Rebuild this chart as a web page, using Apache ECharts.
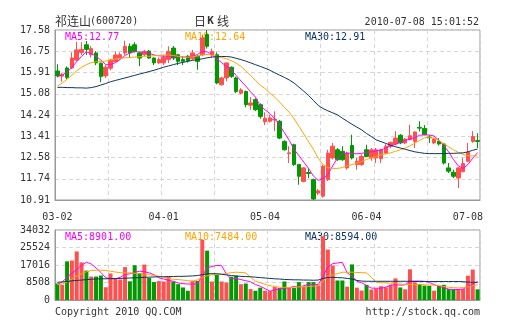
<!DOCTYPE html>
<html><head><meta charset="utf-8">
<script src="https://cdn.jsdelivr.net/npm/echarts@6/dist/echarts.min.js"></script>
<style>html,body{margin:0;padding:0;background:#fff}#c{width:505px;height:330px}</style>
</head><body><div id="c"></div>
<script>
const dates = ['03-02','03-03','03-04','03-05','03-08','03-09','03-10','03-11','03-12','03-15','03-16','03-17','03-18','03-19','03-22','03-23','03-24','03-25','03-26','03-29','03-30','03-31',
'04-01','04-02','04-06','04-07','04-08','04-09','04-12','04-13','04-14','04-15','04-16','04-19','04-20','04-21','04-22','04-23','04-26','04-27','04-28','04-29','04-30',
'05-04','05-05','05-06','05-07','05-10','05-11','05-12','05-13','05-14','05-17','05-18','05-19','05-20','05-21','05-24','05-25','05-26','05-27','05-28','05-31',
'06-01','06-02','06-03','06-04','06-07','06-08','06-09','06-10','06-11','06-17','06-18','06-21','06-22','06-23','06-24','06-25','06-28','06-29','06-30',
'07-01','07-02','07-05','07-06','07-07','07-08'];
const open  = [15.97,15.77,16.09,16.09,16.40,16.70,17.00,16.61,16.68,16.28,15.78,16.08,16.34,16.48,16.68,16.94,17.00,16.68,16.61,16.75,16.48,16.29,
16.29,16.42,16.87,16.61,16.42,16.55,16.45,16.55,16.61,17.40,16.61,16.61,15.43,15.70,16.12,15.70,15.10,15.17,14.63,14.85,14.65,
13.98,14.00,14.05,14.00,13.21,12.73,13.08,12.30,11.64,11.99,11.71,11.18,11.06,11.71,12.56,12.88,12.82,12.17,13.05,12.30,12.30,
12.88,12.56,12.56,12.53,12.75,13.02,13.11,13.45,13.15,13.28,13.21,13.76,13.72,13.38,13.15,13.21,13.11,12.17,12.00,11.77,12.02,12.43,13.21,13.24];
const close = [15.78,15.83,15.72,16.48,16.80,16.82,16.82,16.85,16.29,15.76,16.12,16.40,16.60,16.61,16.94,16.68,16.74,16.48,16.74,16.48,16.29,16.42,
16.51,16.74,16.48,16.35,16.35,16.38,16.68,16.35,17.27,16.94,16.74,15.50,15.70,16.29,15.76,15.17,15.23,14.65,14.72,14.45,14.19,
14.12,14.13,14.08,13.34,12.88,12.76,12.30,11.84,12.17,11.95,10.95,11.27,12.23,12.75,13.02,12.49,12.49,12.75,12.56,12.43,12.62,
12.62,12.88,12.88,12.88,13.02,13.17,13.34,13.15,13.30,13.43,13.58,13.73,13.47,13.35,13.30,13.11,12.36,12.04,11.84,12.17,12.34,12.78,13.40,13.21];
const low   = [15.72,15.55,15.65,16.05,16.35,16.60,16.60,16.50,16.20,15.53,15.70,16.00,16.30,16.40,16.60,16.50,16.70,16.16,16.55,16.45,16.20,16.25,
16.20,16.28,16.40,16.20,16.20,16.30,16.40,16.02,16.55,16.85,16.50,15.45,15.40,15.57,15.70,15.10,15.05,14.55,14.45,14.40,14.10,
13.85,13.95,13.61,13.30,12.85,12.36,12.25,11.51,11.60,11.77,10.91,11.10,11.00,11.65,12.50,12.45,12.45,12.10,12.50,12.10,12.25,
12.60,12.45,12.36,12.36,12.70,12.95,13.05,13.10,13.10,13.25,12.95,13.60,13.45,13.15,13.10,13.05,12.30,11.97,11.77,11.38,12.00,12.40,13.15,12.95];
const high  = [16.24,15.90,16.15,16.70,17.12,17.10,17.15,16.95,16.75,16.30,16.20,16.45,16.74,16.70,17.16,17.05,17.10,16.72,16.80,16.80,16.50,16.50,
16.60,16.94,16.95,16.65,16.55,16.60,16.80,16.60,17.40,17.58,16.85,16.70,15.75,16.30,16.15,15.75,15.30,15.20,14.95,14.90,14.70,
14.35,14.25,14.39,14.05,13.25,13.02,13.12,12.33,12.20,12.17,11.75,11.35,12.30,12.88,13.15,12.95,13.02,12.80,13.47,12.56,12.70,
13.08,12.95,12.95,12.92,13.10,13.20,13.61,13.50,13.35,13.86,13.60,14.00,13.85,13.45,13.35,13.34,13.15,12.36,12.10,12.20,12.56,13.15,13.61,13.53];
const volume = [8000,7400,18800,19200,23600,18300,14300,11400,11400,11900,6200,12900,10400,10000,16000,9100,16900,13100,17200,10700,8700,9200,
9000,11300,9000,7700,6100,4500,9300,9300,29300,24000,9000,12200,9000,8500,11300,11800,7700,8000,5300,4500,6000,
4500,4300,6300,5800,9000,5800,5800,8700,6300,8700,8700,7100,31000,24500,16800,9500,9500,6500,17300,6000,4600,
7400,5100,5500,6700,6100,7400,10500,6100,5200,14900,8600,7800,7000,6900,4500,6900,7400,5300,5300,5300,5300,11800,14800,5200];
const ma5  = [15.75,15.82,15.92,16.12,16.34,16.55,16.72,16.66,16.55,16.40,16.22,16.22,16.30,16.42,16.58,16.68,16.73,16.72,16.70,16.67,16.60,16.57,
16.55,16.56,16.55,16.53,16.52,16.52,16.55,16.62,16.75,16.72,16.62,16.45,16.30,16.15,16.02,15.80,15.58,15.38,15.15,14.95,14.60,
14.45,14.30,14.10,13.85,13.55,13.25,12.90,12.65,12.40,12.15,11.85,11.68,11.75,11.90,12.25,12.55,12.72,12.75,12.74,12.72,12.74,
12.78,12.80,12.83,12.87,12.95,13.03,13.10,13.17,13.25,13.30,13.36,13.45,13.47,13.46,13.42,13.25,13.05,12.80,12.50,12.25,12.15,12.30,12.55,12.77];
const ma10 = [15.38,15.50,15.65,15.80,15.98,16.12,16.22,16.30,16.33,16.34,16.36,16.40,16.44,16.47,16.49,16.50,16.52,16.53,16.55,16.55,16.57,16.58,
16.60,16.60,16.58,16.55,16.52,16.51,16.53,16.56,16.60,16.62,16.60,16.55,16.50,16.45,16.38,16.28,16.15,15.98,15.80,15.60,15.42,
15.28,15.10,14.95,14.75,14.55,14.35,14.10,13.80,13.50,13.20,12.90,12.55,12.30,12.18,12.15,12.15,12.18,12.25,12.30,12.36,12.42,
12.50,12.57,12.62,12.68,12.72,12.76,12.82,12.88,12.95,13.03,13.14,13.25,13.35,13.38,13.33,13.25,13.12,13.00,12.88,12.78,12.70,12.65,12.64,12.64];
const ma30 = [15.33,15.33,15.32,15.32,15.31,15.31,15.30,15.32,15.36,15.42,15.48,15.55,15.60,15.65,15.70,15.75,15.80,15.85,15.90,15.95,16.00,16.06,
16.12,16.17,16.22,16.27,16.31,16.35,16.39,16.42,16.45,16.49,16.52,16.53,16.54,16.54,16.52,16.47,16.42,16.36,16.29,16.22,16.15,
16.08,16.00,15.90,15.81,15.72,15.62,15.50,15.34,15.18,15.01,14.82,14.62,14.50,14.41,14.33,14.25,14.12,14.00,13.88,13.77,13.66,
13.52,13.40,13.27,13.20,13.13,13.06,13.00,12.95,12.90,12.85,12.80,12.77,12.74,12.73,12.73,12.73,12.73,12.74,12.74,12.75,12.76,12.80,12.86,12.91];
const vma5 = [7500,8800,11000,13000,14800,16800,18400,17500,15600,13400,10800,10500,10300,11000,12400,12700,13500,14000,13800,13200,12300,10800,
10200,9600,9100,8300,7900,7800,7700,8000,11800,15600,16300,16800,16700,12500,10300,10500,9900,9400,8800,7500,6700,
5500,4300,4900,5400,5800,5900,6700,6200,7000,7500,7600,7500,11600,16000,17700,18000,18300,13200,11700,9100,8400,
7000,5800,5700,5700,6200,7200,7500,7200,7400,9100,9200,9200,9100,8600,7500,6600,6100,5300,5100,5100,5300,6700,7800,8901];
const vma10 = [7500,7800,8800,10200,11600,12800,13700,14300,14500,14500,14400,14000,13600,13300,13200,13200,13000,12800,12500,12200,12000,11600,
11100,10500,10100,9900,9700,9400,9200,9800,11100,11800,12200,12400,12600,12900,13300,13500,13400,13200,11000,9200,8400,
7600,7000,6500,6200,6100,6100,6200,6400,6500,6600,6700,7000,9100,11500,12200,12800,13500,13500,13500,13400,13300,
13200,11000,8600,8400,8300,8200,8000,7700,7600,7500,7500,7500,7400,7300,7200,7000,6600,6200,6000,5900,6000,6400,6900,7484];
const vma30 = [8600,8800,9000,9300,9500,9700,9900,10100,10200,10300,10300,10400,10400,10500,10600,10700,10800,10900,11000,11100,11200,11300,
11300,11400,11400,11500,11500,11600,11700,11900,12300,12700,12800,12800,12500,12200,11900,11700,11500,11400,11300,11100,10900,
10700,10500,10300,10200,10000,9900,9800,9800,9700,9700,9600,9700,10500,11000,11000,10900,10800,10500,10200,9500,9200,
9100,9100,9100,9100,9100,9100,9100,9100,9100,9100,9000,9000,9000,9000,9000,9000,9000,9000,9000,9000,8900,8700,8600,8594];
const priceTicks = ['10.91','11.74','12.58','13.41','14.24','15.08','15.91','16.75','17.58'];
const volTicks = ['0','8508','17016','25524','34032'];
const xTickLabels = ['03-02','04-01','05-04','06-04','07-08'];
const xTickIndex = [0,22,43,64,85];
const legendPrice = ['MA5:12.77','MA10:12.64','MA30:12.91'];
const legendVol = ['MA5:8901.00','MA10:7484.00','MA30:8594.00'];

const RED='#ff5050', GREEN='#009900', C5='#ff00ff', C10='#ffa500', C30='#0d3563';
const MONO='"DejaVu Sans Mono", "Liberation Mono", monospace';
const CJK='"Noto Sans CJK SC", sans-serif';
const AX='#999', GRIDC='#d6d6d6';
const dash=[4,3];

const chart = echarts.init(document.getElementById('c'), null, {renderer:'canvas'});
const candles = dates.map((d,i)=>[open[i],close[i],low[i],high[i]]);
const volData = volume.map((v,i)=>({value:v,itemStyle:{color: close[i]>=open[i]?RED:GREEN}}));
function T(x,y,text,fill,font,align){return {type:'text',x:x,y:y,silent:true,style:{text:text,fill:fill,font:font||('10px '+MONO),align:align||'left',verticalAlign:'middle'}};}

const gridSplitX = (gi)=>({type:'value',gridIndex:gi,min:0,max:8,interval:1,axisLine:{show:false},axisTick:{show:false},axisLabel:{show:false},
  splitLine:{show:true,lineStyle:{color:GRIDC,type:dash,width:1}}});
const lineS = (name,data,color,xi,yi)=>({name:name,type:'line',data:data,xAxisIndex:xi,yAxisIndex:yi,symbol:'none',smooth:false,
  lineStyle:{color:color,width:1},itemStyle:{color:color},z:5,silent:true});

chart.setOption({
  animation:false,
  backgroundColor:'#fff',
  grid:[
    {left:55,right:25,top:30,height:170,show:true,borderColor:AX,borderWidth:1,backgroundColor:'transparent'},
    {left:55,right:25,top:230,height:70,show:true,borderColor:AX,borderWidth:1,backgroundColor:'transparent'}
  ],
  xAxis:[
    {type:'category',gridIndex:0,data:dates,boundaryGap:true,position:'bottom',
     axisLine:{lineStyle:{color:AX}},axisTick:{show:false},splitLine:{show:false},
     axisLabel:{interval:(i)=>xTickIndex.indexOf(i)>=0,formatter:(v,i)=>xTickLabels[xTickIndex.indexOf(i)],
       color:'#333',fontFamily:MONO,fontSize:10,margin:12}},
    gridSplitX(0),
    {type:'category',gridIndex:1,data:dates,boundaryGap:true,position:'bottom',
     axisLine:{lineStyle:{color:AX}},axisTick:{show:false},axisLabel:{show:false},splitLine:{show:false}},
    gridSplitX(1)
  ],
  yAxis:[
    {type:'value',gridIndex:0,min:10.91,max:17.58,show:false,position:'right'},
    {type:'value',gridIndex:0,min:0,max:8,interval:1,position:'left',
     axisLine:{show:true,lineStyle:{color:AX}},axisTick:{show:false},
     axisLabel:{formatter:(v)=>priceTicks[Math.round(v)],color:'#333',fontFamily:MONO,fontSize:10,margin:5},
     splitLine:{show:true,lineStyle:{color:GRIDC,type:dash}}},
    {type:'value',gridIndex:1,min:0,max:34032,interval:8508,position:'left',
     axisLine:{show:true,lineStyle:{color:AX}},axisTick:{show:false},
     axisLabel:{formatter:(v)=>volTicks[Math.round(v/8508)],color:'#333',fontFamily:MONO,fontSize:10,margin:5},
     splitLine:{show:true,lineStyle:{color:GRIDC,type:dash}}}
  ],
  series:[
    {type:'candlestick',xAxisIndex:0,yAxisIndex:0,data:candles,barWidth:4,z:3,
     itemStyle:{color:RED,color0:GREEN,borderColor:RED,borderColor0:GREEN,borderWidth:1}},
    lineS('MA5',ma5,C5,0,0),
    lineS('MA10',ma10,C10,0,0),
    lineS('MA30',ma30,C30,0,0),
    {type:'bar',xAxisIndex:2,yAxisIndex:2,data:volData,barWidth:4,z:3},
    lineS('VMA5',vma5,C5,2,2),
    lineS('VMA10',vma10,C10,2,2),
    lineS('VMA30',vma30,C30,2,2)
  ],
  graphic:[
    T(55,21,'祁连山','#333','12px '+CJK),
    T(90,21,'(600720)','#333'),
    T(194,21,'日','#333','12px '+CJK),
    T(210.5,21,'K','#333','bold 11px '+MONO,'center'),
    T(217,21,'线','#333','12px '+CJK),
    T(479,22,'2010-07-08 15:01:52','#333',null,'right'),
    T(65,37,legendPrice[0],C5),
    T(185,37,legendPrice[1],C10),
    T(305,37,legendPrice[2],C30),
    T(65,237,legendVol[0],C5),
    T(185,237,legendVol[1],C10),
    T(305,237,legendVol[2],C30),
    T(55,312,'Copyright 2010 QQ.COM','#333'),
    T(480,312,'http://stock.qq.com','#333',null,'right')
  ]
});
</script></body></html>
